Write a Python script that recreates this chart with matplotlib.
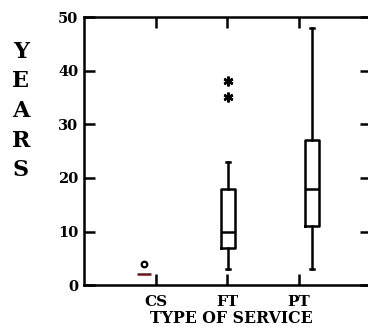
import matplotlib
matplotlib.use('Agg')
import matplotlib.pyplot as plt

# years of service by type of service
groups = ['CS', 'FT', 'PT']
whislo = [2, 3, 3]
q1 = [2, 7, 11]
med = [2, 10, 18]
q3 = [2, 18, 27]
whishi = [2, 23, 48]
fliers = [[4], [35, 38], []]

# where the category labels sit (the boxes are drawn a bit off them)
tick_pos = [1.143, 1.988, 2.845]
yticks = [0, 10, 20, 30, 40, 50]

plt.rcParams['font.family'] = 'DejaVu Serif'
plt.rcParams['font.weight'] = 'bold'

fig = plt.figure(figsize=(3.68, 3.27), dpi=100)
ax = fig.add_axes([0.228, 0.128, 0.78, 0.82])

stats = []
for i, g in enumerate(groups):
    stats.append({'label': g, 'whislo': whislo[i], 'q1': q1[i], 'med': med[i],
                  'q3': q3[i], 'whishi': whishi[i], 'fliers': fliers[i]})

bp = ax.bxp(stats, positions=[1, 2, 3], widths=0.16, manage_ticks=False,
            boxprops=dict(color='black', linewidth=1.8),
            whiskerprops=dict(color='black', linewidth=1.8),
            capprops=dict(color='black', linewidth=1.8),
            medianprops=dict(color='black', linewidth=1.8),
            flierprops=dict(marker=(6, 2, 0), markersize=7, markeredgewidth=1.8,
                            markerfacecolor='black', markeredgecolor='black'),
            capwidths=0.04)

# CS has no spread: just the median dash and one open outlier
bp['boxes'][0].set_visible(False)
for a in bp['whiskers'][0:2] + bp['caps'][0:2]:
    a.set_visible(False)
bp['medians'][0].set_color('#7a1010')
bp['fliers'][0].set_marker('o')
bp['fliers'][0].set_markerfacecolor('white')
bp['fliers'][0].set_markeredgewidth(1.6)
bp['fliers'][0].set_markersize(4)

ax.set_xlim(0.286, 3.70)
ax.set_ylim(0, 50)
ax.set_xticks(tick_pos)
ax.set_xticklabels(groups, fontsize=11, fontweight='bold')
ax.set_yticks(yticks)
ax.set_yticklabels([str(v) for v in yticks], fontsize=10.5, fontweight='bold')
ax.tick_params(direction='in', length=8, width=1.8, top=True, right=True, pad=4)
ax.tick_params(axis='x', pad=7)

for s in ['left', 'bottom', 'top']:
    ax.spines[s].set_linewidth(1.8)
# right edge runs off the picture, only its ticks show
ax.spines['right'].set_visible(False)

ax.set_xlabel('TYPE OF SERVICE', fontsize=11.3, fontweight='bold', labelpad=0)
ax.xaxis.set_label_coords(0.515, -0.092)
ax.set_ylabel('Y\nE\nA\nR\nS', rotation=0, fontsize=16, fontweight='bold',
              linespacing=1.45, va='center', ha='center')
ax.yaxis.set_label_coords(-0.22, 0.65)

fig.savefig('out.png', dpi=100)
